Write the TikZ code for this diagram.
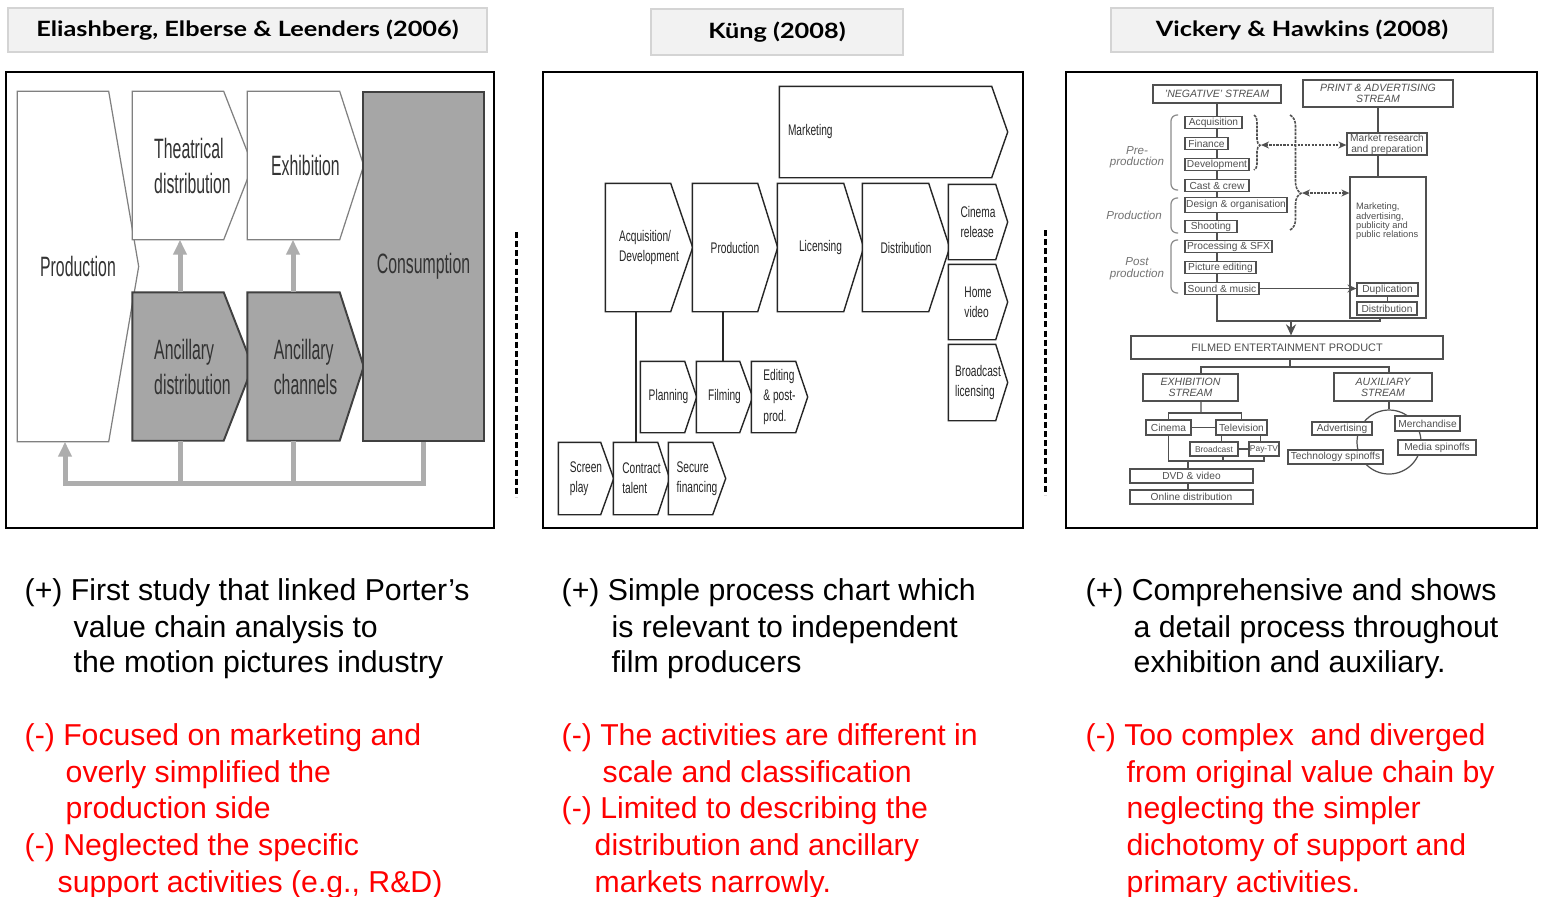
\documentclass[tikz,border=0pt]{standalone}
\usepackage{fontspec}
\setmainfont{Liberation Sans}
\newfontfamily\headfont{Lato}[FakeStretch=1.2]
\newfontfamily\narrowA{Liberation Sans}[FakeStretch=0.565]
\newfontfamily\narrowB{Liberation Sans}[FakeStretch=0.66]
\usetikzlibrary{positioning,arrows.meta,backgrounds,decorations.pathreplacing}

\definecolor{hdrfill}{HTML}{F2F2F2}
\definecolor{hdrline}{HTML}{D4D4D4}
\definecolor{boxgray}{HTML}{A6A6A6}
\definecolor{loopgray}{HTML}{ADADAD}
\definecolor{inkgray}{HTML}{505050}
\definecolor{conred}{HTML}{FF0000}

\tikzset{
  hdr/.style={draw=hdrline, fill=hdrfill, inner sep=0, font=\headfont\bfseries\fontsize{6}{7}\selectfont},
  panelframe/.style={line width=0.65pt},
  divider/.style={line width=0.85pt, dash pattern=on 1.7pt off 0.9pt},
  ela/.style={inner sep=0, align=left, text=black!80, font=\narrowA\fontsize{7.97}{9.96}\selectfont},
  elawhite/.style={fill=white, draw=black!50, line width=0.35pt},
  eladark/.style={fill=boxgray, draw=black!75, line width=0.55pt},
  feedback/.style={draw=loopgray, line width=0.5mm},
  feedarr/.style={feedback, -{Triangle[length=1.5mm, width=1.3mm]}},
  kung/.style={inner sep=0, align=left, text=black!85, font=\narrowB\fontsize{4.38}{5.7}\selectfont},
  kungline/.style={draw=black!85, line width=0.4pt},
  vh/.style={draw=inkgray, line width=0.35pt, fill=white, inner sep=0, minimum height=1.25mm, text=inkgray, font=\fontsize{2.9}{3.3}\selectfont},
  vhead/.style={vh, align=center, font=\itshape\fontsize{3}{3.1}\selectfont},
  vlab/.style={inner sep=0, align=center, text=black!55, font=\itshape\fontsize{3.3}{3.3}\selectfont},
  vline/.style={draw=inkgray, line width=0.35pt},
  vdots/.style={draw=inkgray, line width=0.4pt, dash pattern=on 0.6pt off 0.4pt, <->, >={Stealth[length=0.8mm, width=0.7mm]}},
  pro/.style={anchor=base west, inner sep=0, font=\fontsize{8.6}{10.4}\selectfont},
  con/.style={pro, text=conred}
}

\begin{document}
\begin{tikzpicture}[x=0.1mm, y=-0.1mm]
\useasboundingbox (0,0) rectangle (1543,896);
\begin{scope}[on background layer]
  \fill[white] (0,0) rectangle (1543,896);
\end{scope}

% headings
\node[hdr, minimum width=47.9mm, minimum height=4.4mm] (hA) at (247.5,30) {Eliashberg, Elberse \& Leenders (2006)};
\node[hdr, minimum width=25.2mm, minimum height=4.6mm] (hB) at (777,32) {Küng (2008)};
\node[hdr, minimum width=38.2mm, minimum height=4.4mm] (hC) at (1302,30) {Vickery \& Hawkins (2008)};

\draw[panelframe] (6,72) rectangle (494,528);
\draw[panelframe] (543,72) rectangle (1023,528);
\draw[panelframe] (1066,72) rectangle (1537,528);
\draw[divider] (516,232) -- (516,497);
\draw[divider] (1045,230) -- (1045,495);

% Eliashberg et al.
\node[ela, minimum width=12mm, minimum height=34.9mm] (prod) at (78,266.5) {Production};
\node[ela, minimum width=11.9mm, minimum height=14.7mm] (thea) at (192.5,165.5) {Theatrical\\distribution};
\node[ela, minimum width=11.5mm, minimum height=14.7mm] (exhi) at (305.5,165.5) {Exhibition};
\node[ela, minimum width=11.9mm, minimum height=14.7mm] (anc1) at (192.5,366.5) {Ancillary\\distribution};
\node[ela, minimum width=11.5mm, minimum height=14.7mm] (anc2) at (305.5,366.5) {Ancillary\\channels};
\node[ela, eladark, minimum width=12.1mm, minimum height=34.9mm] (cons) at (423.5,266.5) {Consumption};

\begin{scope}[on background layer]
  \foreach \n/\tp in {prod/30, thea/29, exhi/24}
    \draw[elawhite] (\n.north west) -- ([shift={(-\tp,0)}]\n.north east) -- (\n.east)
      -- ([shift={(-\tp,0)}]\n.south east) -- (\n.south west) -- cycle;
  \foreach \n/\tp in {anc1/29, anc2/24}
    \draw[eladark] (\n.north west) -- ([shift={(-\tp,0)}]\n.north east) -- (\n.east)
      -- ([shift={(-\tp,0)}]\n.south east) -- (\n.south west) -- cycle;
\end{scope}

\draw[feedarr] ([xshift=-1.25mm]anc1.north) -- ([xshift=-1.25mm]thea.south);
\draw[feedarr] ([xshift=-1.25mm]anc2.north) -- ([xshift=-1.25mm]exhi.south);
\draw[feedarr] (cons.south) -- ++(0,42) -| ([xshift=-1.3mm]prod.south);
\draw[feedback] ([xshift=-1.25mm]anc1.south) -- ++(0,43);
\draw[feedback] ([xshift=-1.25mm]anc2.south) -- ++(0,43);

% Kung
\node[kung, minimum width=22.7mm, minimum height=9mm, text width=21.1mm] (mkt2) at (893.5,132) {Marketing};
\node[kung, minimum width=8.6mm, minimum height=12.7mm] (acq2) at (649,247.5) {Acquisition/\\Development};
\node[kung, minimum width=8.4mm, minimum height=12.7mm] (prd2) at (735,247.5) {Production};
\node[kung, minimum width=8.5mm, minimum height=12.7mm] (lic2) at (820.5,247.5) {Licensing};
\node[kung, minimum width=8.6mm, minimum height=12.7mm] (dst2) at (906,247.5) {Distribution};
\node[kung, minimum width=5.8mm, minimum height=7.4mm] (cin2) at (978,222) {Cinema\\release};
\node[kung, minimum width=5.8mm, minimum height=7.4mm] (hom2) at (978,302) {Home\\video};
\node[kung, minimum width=5.8mm, minimum height=7.5mm] (brd2) at (978,382.5) {Broadcast\\licensing};
\node[kung, minimum width=5.5mm, minimum height=7mm] (pln2) at (668.5,397) {Planning};
\node[kung, minimum width=5.5mm, minimum height=7mm] (flm2) at (724.5,397) {Filming};
\node[kung, minimum width=5.5mm, minimum height=7mm] (edt2) at (779.5,397) {Editing\\\& post-\\prod.};
\node[kung, minimum width=5.4mm, minimum height=7.1mm] (scr2) at (586,478.5) {Screen\\play};
\node[kung, minimum width=5.5mm, minimum height=7.1mm] (con2) at (641.5,478.5) {Contract\\talent};
\node[kung, minimum width=5.6mm, minimum height=7.1mm] (sec2) at (697,478.5) {Secure\\financing};

\begin{scope}[on background layer]
  \foreach \n/\tp in {mkt2/16, acq2/22, prd2/20, lic2/20, dst2/21, cin2/12, hom2/12, brd2/12,
                      pln2/12, flm2/13, edt2/12, scr2/13, con2/12, sec2/13}
    \draw[kungline, fill=white] (\n.north west) -- ([shift={(-\tp,0)}]\n.north east) -- (\n.east)
      -- ([shift={(-\tp,0)}]\n.south east) -- (\n.south west) -- cycle;
\end{scope}

\draw[kungline] ([xshift=-1.3mm]acq2.south) -- ([xshift=-1.3mm]acq2.south |- con2.north);
\draw[kungline] ([xshift=-1.2mm]prd2.south) -- ([xshift=-1.2mm]prd2.south |- flm2.north);

% Vickery & Hawkins
\node[vhead, minimum width=12.8mm, minimum height=1.8mm] (neg) at (1217,94) {'NEGATIVE' STREAM};
\node[vhead, minimum width=15mm, minimum height=2.7mm] (pna) at (1378,93.5) {PRINT \& ADVERTISING\\STREAM};

\node[vh, minimum width=5.7mm] (acq3) at (1213.5,122.5) {Acquisition};
\node[vh, minimum width=4.3mm] (fin3) at (1206.5,143.5) {Finance};
\node[vh, minimum width=6.4mm] (dev3) at (1217,164.5) {Development};
\node[vh, minimum width=6.4mm] (cast3) at (1217,185.5) {Cast \& crew};
\node[vh, minimum width=10.2mm, minimum height=1.5mm] (des3) at (1236,205) {Design \& organisation};
\node[vh, minimum width=5.2mm] (sht3) at (1211,226.5) {Shooting};
\node[vh, minimum width=8.7mm] (prc3) at (1228.5,246.5) {Processing \& SFX};
\node[vh, minimum width=7.1mm] (pic3) at (1220.5,267.5) {Picture editing};
\node[vh, minimum width=7.4mm] (snd3) at (1222,288.5) {Sound \& music};

\node[vlab] (preL) at (1137,157) {Pre-\\production};
\node[vlab] (prodL) at (1134,215) {Production};
\node[vlab] (postL) at (1137,268.5) {Post\\production};

\draw[black!45, line width=0.35pt, rounded corners=0.6mm] (1178,115) -- (1171,115) -- (1171,190) -- (1178,190);
\draw[black!45, line width=0.35pt, rounded corners=0.6mm] (1178,198) -- (1171,198) -- (1171,233) -- (1178,233);
\draw[black!45, line width=0.35pt, rounded corners=0.6mm] (1178,240) -- (1171,240) -- (1171,293) -- (1178,293);

\node[vh, align=center, minimum width=8mm, minimum height=2.2mm, font=\fontsize{2.9}{3.1}\selectfont] (mrk3) at (1387,144) {Market research\\and preparation};
\node[vh, minimum width=7.6mm, minimum height=14.1mm] (mkt3) at (1388,247.5) {};
\node[inner sep=0, align=left, text=inkgray, font=\fontsize{2.65}{2.65}\selectfont,
      below right=2.6mm and 0.6mm of mkt3.north west] (mkt3t) {Marketing,\\advertising,\\publicity and\\public relations};
\node[vh, minimum width=6.1mm, minimum height=1.3mm] (dup3) at (1387.5,289.5) {Duplication};
\node[vh, minimum width=6mm, minimum height=1.3mm] (dis3) at (1387,308.5) {Distribution};

\draw[vline, line width=0.45pt, dash pattern=on 0.8pt off 0.3pt, decorate,
      decoration={brace, amplitude=0.6mm, aspect=0.55}] (1254,115) -- (1254,170);
\draw[vline, line width=0.45pt, dash pattern=on 0.8pt off 0.3pt, decorate,
      decoration={brace, amplitude=1.1mm, aspect=0.68}] (1290,115) -- (1290,230);
\coordinate (nb1) at (1261,145);
\coordinate (nb2) at (1302,193);
\draw[vdots] (nb1) -- (nb1 -| mrk3.west);
\draw[vdots] (nb2) -- (nb2 -| mkt3.west);

\draw[vline] (pna.south) -- (pna.south |- mrk3.north);
\draw[vline] (mrk3.south -| pna.south) -- (mkt3.north -| pna.south);
\draw[vline] (dup3.south) -- (dup3.south |- dis3.north);

\foreach \a/\b in {neg/acq3, acq3/fin3, fin3/dev3, dev3/cast3, cast3/des3, des3/sht3, sht3/prc3, prc3/pic3, pic3/snd3}
  \draw[vline] (\a.south -| neg.south) -- (\b.north -| neg.south);
\coordinate (spend) at (1217,321);
\draw[vline] (snd3.south -| neg.south) -- (spend) -| ([xshift=-0.8mm]mkt3.south);
\draw[vline, line width=0.55pt, -{Stealth[length=0.9mm, width=0.8mm]}] (snd3.east) -- (snd3.east -| dup3.west);

\node[vh, minimum width=31.2mm, minimum height=2.3mm, font=\fontsize{3.1}{3.1}\selectfont] (fep) at (1287,347.5) {FILMED ENTERTAINMENT PRODUCT};
\coordinate (mg) at (1291,321);
\draw[vline, line width=0.7pt, -{Stealth[length=1.1mm, width=1mm]}] (mg) -- (mg |- fep.north);

\node[vhead, minimum width=9.5mm, minimum height=2.7mm] (exh) at (1190.5,387.5) {EXHIBITION\\STREAM};
\node[vhead, minimum width=9.8mm, minimum height=2.8mm] (aux) at (1383,387) {AUXILIARY\\STREAM};
\coordinate (fk) at (1290,367);
\draw[vline] (fep.south -| fk) -- (fk);
\draw[vline] ([xshift=1.05mm]exh.north) |- ([xshift=0.6mm]aux.north |- fk) -- ([xshift=0.6mm]aux.north);

\node[circle, draw=inkgray, line width=0.35pt, minimum size=6.4mm, inner sep=0] (ring) at (1389,442) {};
\draw[vline] (ring.north) -- (ring.north |- aux.south);

\node[vh, minimum width=4.5mm, minimum height=1.5mm] (cin3) at (1168.5,427.5) {Cinema};
\node[vh, minimum width=5.1mm, minimum height=1.5mm] (tv3) at (1241.5,427.5) {Television};
\node[vh, minimum width=4.8mm, minimum height=1.4mm, font=\fontsize{2.4}{2.6}\selectfont] (brd3) at (1214,449) {Broadcast};
\node[vh, minimum width=3mm, minimum height=1.4mm, font=\fontsize{2.4}{2.6}\selectfont] (pay3) at (1264,449) {Pay-TV};
\node[vh, minimum width=12.3mm, minimum height=1.4mm] (dvd3) at (1191.5,476) {DVD \& video};
\node[vh, minimum width=12.3mm, minimum height=1.4mm] (onl3) at (1191.5,497) {Online distribution};
\node[vh, minimum width=6mm, minimum height=1.3mm] (adv3) at (1342,428.5) {Advertising};
\node[vh, minimum width=6.5mm, minimum height=1.5mm] (mer3) at (1427.5,423.5) {Merchandise};
\node[vh, minimum width=9.5mm, minimum height=1.4mm] (tec3) at (1335.5,457) {Technology spinoffs};
\node[vh, minimum width=7.8mm, minimum height=1.5mm] (med3) at (1437,447.5) {Media spinoffs};

\coordinate (ef) at (1201,413);
\draw[vline] ([xshift=1.05mm]exh.south) -- (ef);
\draw[vline] (cin3.north) |- (tv3.north |- ef) -- (tv3.north);
\draw[vline] (cin3.east) -- (tv3.west);
\draw[vline] ([xshift=-2mm]tv3.south) -- ([xshift=-2mm]tv3.south |- brd3.north);
\draw[vline] ([xshift=1.9mm]tv3.south) -- ([xshift=1.9mm]tv3.south |- pay3.north);
\draw[vline] (brd3.east) -- (pay3.west);
\coordinate (eb) at (1188,461);
\draw[vline] (cin3.south) |- (pay3.south |- eb) -- (pay3.south);
\draw[vline] ([xshift=0.9mm]brd3.south) -- ([xshift=0.9mm]brd3.south |- eb);
\draw[vline] (eb) -- (eb |- dvd3.north);
\draw[vline] (dvd3.south -| eb) -- (onl3.north -| eb);

% pros and cons
\node[pro] (tA1) at (24,600) {(+) First study that linked Porter’s};
\node[pro] (tA2) at (73,637) {value chain analysis to};
\node[pro] (tA3) at (73,672) {the motion pictures industry};
\node[con] (tA4) at (24,745) {(-) Focused on marketing and};
\node[con] (tA5) at (65,782) {overly simplified the};
\node[con] (tA6) at (65,818) {production side};
\node[con] (tA7) at (24,855) {(-) Neglected the specific};
\node[con] (tA8) at (57,892) {support activities (e.g., R\&D)};

\node[pro] (tB1) at (561,600) {(+) Simple process chart which};
\node[pro] (tB2) at (611,637) {is relevant to independent};
\node[pro] (tB3) at (611,672) {film producers};
\node[con] (tB4) at (561,745) {(-) The activities are different in};
\node[con] (tB5) at (602,782) {scale and classification};
\node[con] (tB6) at (561,818) {(-) Limited to describing the};
\node[con] (tB7) at (594,855) {distribution and ancillary};
\node[con] (tB8) at (594,892) {markets narrowly.};

\node[pro] (tC1) at (1085,600) {(+) Comprehensive and shows};
\node[pro] (tC2) at (1133,637) {a detail process throughout};
\node[pro] (tC3) at (1133,672) {exhibition and auxiliary.};
\node[con] (tC4) at (1085,745) {(-) Too complex \ and diverged};
\node[con] (tC5) at (1126,782) {from original value chain by};
\node[con] (tC6) at (1126,818) {neglecting the simpler};
\node[con] (tC7) at (1126,855) {dichotomy of support and};
\node[con] (tC8) at (1126,892) {primary activities.};
\end{tikzpicture}
\end{document}
